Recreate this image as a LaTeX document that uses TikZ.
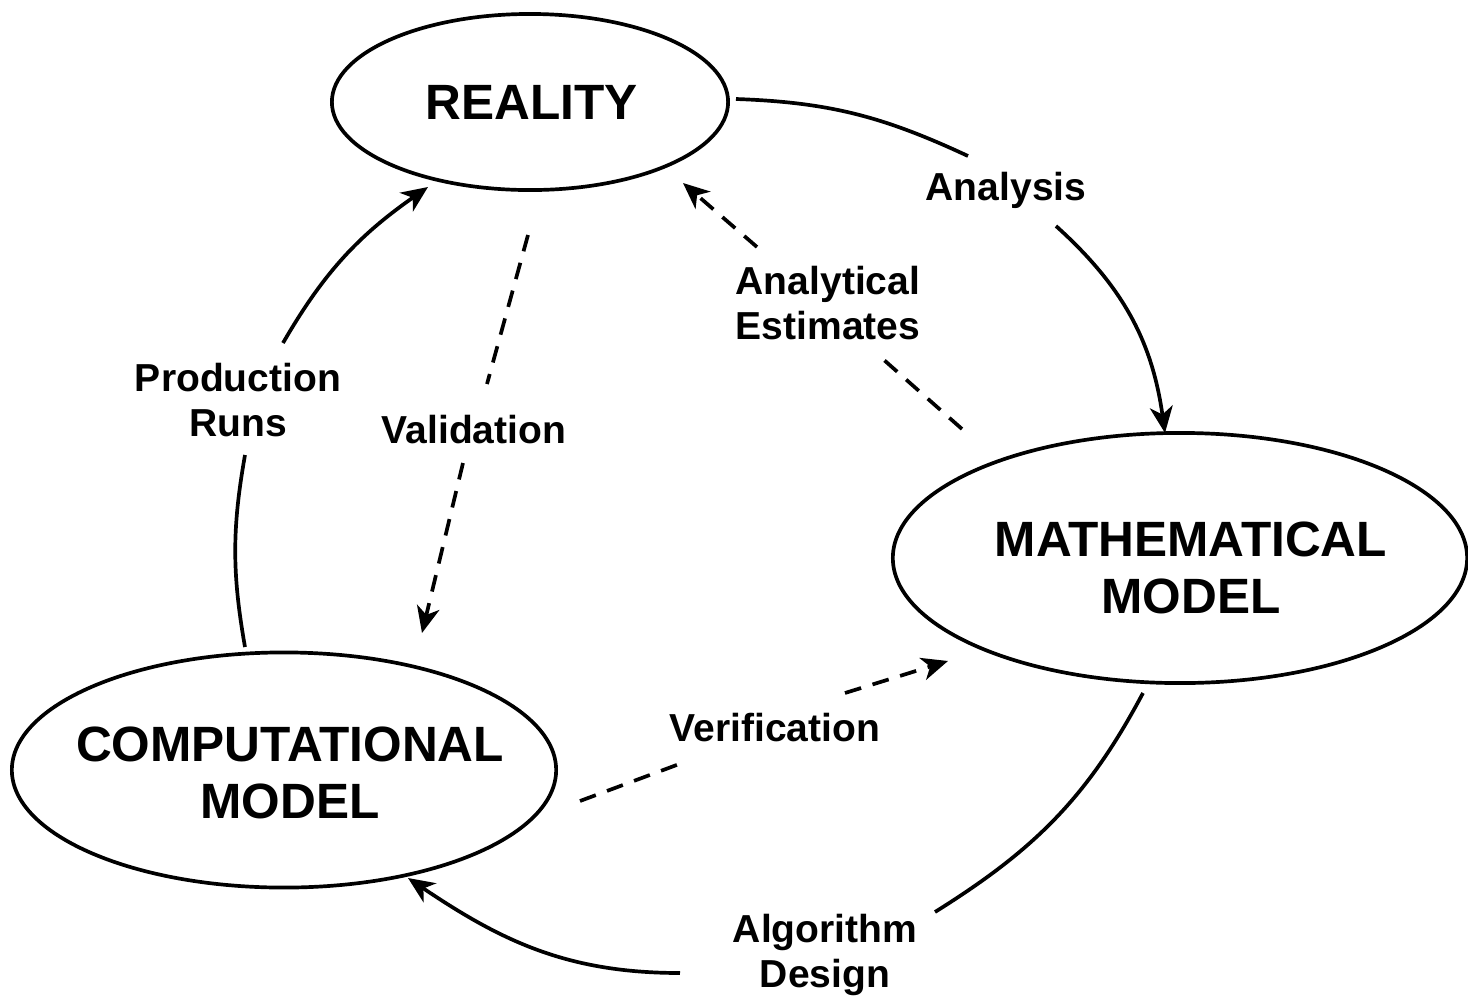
\documentclass[tikz,border=0pt]{standalone}
\usepackage{fontspec}
\setmainfont{Liberation Sans}
\usetikzlibrary{arrows.meta,shapes.geometric}
\begin{document}
\begin{tikzpicture}[x=0.01cm,y=0.01cm,
  ell/.style={ellipse,draw,line width=1.05pt,inner sep=0pt},
  big/.style={align=center,inner sep=0pt,font=\fontsize{14.1}{16.3}\selectfont\bfseries},
  lab/.style={align=center,inner sep=0pt,font=\fontsize{11.1}{12.8}\selectfont\bfseries},
  seg/.style={line width=1.05pt},
  conn/.style={line width=1.05pt,-{Stealth[length=7.5pt,width=6.5pt,inset=2.2pt]}},
  dsh/.style={dash pattern=on 4.8pt off 3.4pt}]
\path[use as bounding box] (0,0) rectangle (1468,-1005);

% main nodes
\node[ell,minimum width=3.96cm,minimum height=1.76cm] (real) at (530,-102) {};
\node[ell,minimum width=5.74cm,minimum height=2.50cm] (math) at (1180,-558) {};
\node[ell,minimum width=5.44cm,minimum height=2.35cm] (comp) at (284,-770) {};
\node[big] (realtxt) at (532,-102) {REALITY};
\node[big] (mathtxt) at (1191,-568) {MATHEMATICAL\\MODEL};
\node[big] (comptxt) at (290,-773) {COMPUTATIONAL\\MODEL};

% labels
\node[lab] (lana) at (1006,-190) {Analysis};
\node[lab] (lest) at (828,-303) {Analytical\\Estimates};
\node[lab] (lprod) at (238,-400) {Production\\Runs};
\node[lab] (lval) at (474,-430) {Validation};
\node[lab] (lver) at (775,-728) {Verification};
\node[lab] (lalg) at (825,-955) {Algorithm\\Design};

% break points of the connectors
\coordinate (a1) at (736,-99);
\coordinate (a2) at (968,-156);
\coordinate (a3) at (1056,-226);
\coordinate (a4) at (1165,-433);
\coordinate (e1) at (962,-429);
\coordinate (e2) at (884,-360);
\coordinate (e3) at (757,-247);
\coordinate (e4) at (683,-183);
\coordinate (v1) at (528,-235);
\coordinate (v2) at (487,-384);
\coordinate (v3) at (463,-463);
\coordinate (v4) at (422,-633);
\coordinate (p1) at (245,-647);
\coordinate (p2) at (245,-455);
\coordinate (p3) at (283,-343);
\coordinate (p4) at (428,-187);
\coordinate (r1) at (580,-801);
\coordinate (r2) at (682,-763);
\coordinate (r3) at (845,-693);
\coordinate (r4) at (948,-661);
\coordinate (g1) at (1143,-693);
\coordinate (g2) at (935,-912);
\coordinate (g3) at (680,-973);
\coordinate (g4) at (408,-878);

% Analysis: reality -> math
\draw[seg] (a1) to[out=-2,in=155] (a2);
\draw[conn] (a3) to[out=-42,in=98] (a4);
% Analytical estimates: math -> reality
\draw[seg,dsh] (e1) -- (e2);
\draw[conn,dsh] (e3) -- (e4);
% Validation: reality -> comp
\draw[seg,dsh] (v1) -- (v2);
\draw[conn,dsh] (v3) -- (v4);
% Production runs: comp -> reality
\draw[seg] (p1) to[out=100,in=-100] (p2);
\draw[conn] (p3) to[out=60,in=-145] (p4);
% Verification: comp -> math
\draw[seg,dsh] (r1) -- (r2);
\draw[conn,dsh] (r3) -- (r4);
% Algorithm design: math -> comp
\draw[seg] (g1) to[out=-118,in=32] (g2);
\draw[conn] (g3) to[out=180,in=-34] (g4);
\end{tikzpicture}
\end{document}
